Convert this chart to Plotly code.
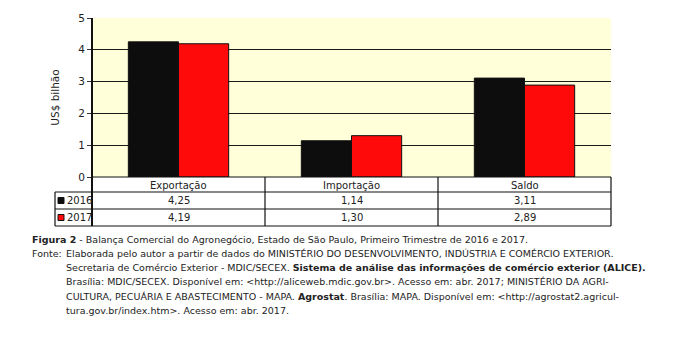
import plotly.graph_objects as go

categories = ["Exportação", "Importação", "Saldo"]
years = ["2016", "2017"]
v2016 = [4.25, 1.14, 3.11]
v2017 = [4.19, 1.30, 2.89]
colors = ["#0d0d0d", "#ff0a0a"]

W, H = 684, 339
L, R, T, B = 92, 611, 18, 177
PW, PH = R - L, B - T

def px(x):
    return (x - L) / PW

def py(y):
    return (B - y) / PH

FONT = "DejaVu Sans"

fig = go.Figure()
for yr, vals, c in zip(years, [v2016, v2017], colors):
    fig.add_trace(go.Bar(x=categories, y=vals, name=yr, marker=dict(color=c, line=dict(color="#111", width=1))))

fig.update_layout(
    width=W, height=H,
    margin=dict(l=L, r=W - R, t=T, b=H - B),
    paper_bgcolor="white", plot_bgcolor="#ffffd9",
    barmode="group", bargap=0.42, bargroupgap=0,
    showlegend=False,
    font=dict(family=FONT, color="#222", size=10),
)
fig.update_xaxes(showticklabels=False, showgrid=False, ticks="", range=[-0.5, 2.5], showline=False)
fig.update_yaxes(range=[0, 5], dtick=1, showgrid=True, gridcolor="#1a1a1a", gridwidth=1,
                 ticks="outside", ticklen=4, tickcolor="#333", showline=True, linecolor="#666",
                 linewidth=1, zeroline=False, tickfont=dict(size=10.5),
                 title=dict(text="US$ bilhão", font=dict(size=10.5), standoff=16))

shapes = []
def line(x0, y0, x1, y1, w=1.2, c="#111"):
    shapes.append(dict(type="line", xref="paper", yref="paper", x0=px(x0), y0=py(y0), x1=px(x1), y1=py(y1),
                       line=dict(color=c, width=w)))

# table
row_y = [177, 192, 209, 226]
col_x = [L + PW * i / 3 for i in range(4)]
line(L, 177, R, 177)
for yy in row_y[1:]:
    line(55, yy, R, yy)
line(55, 192, 55, 226)
line(L, 18, L, 226, w=2)
for xx in col_x[1:]:
    line(xx, 177, xx, 226)

annotations = []
def text(x, y, s, anchor="center", size=10, bold=False):
    annotations.append(dict(xref="paper", yref="paper", x=px(x), y=py(y), text=("<b>%s</b>" % s) if bold else s,
                            showarrow=False, xanchor=anchor, yanchor="middle",
                            font=dict(family=FONT, size=size, color="#222")))

for i, cat in enumerate(categories):
    cx = (col_x[i] + col_x[i + 1]) / 2
    text(cx, 185, cat)
    text(cx, 200.5, f"{v2016[i]:.2f}".replace(".", ","))
    text(cx, 217.5, f"{v2017[i]:.2f}".replace(".", ","))

for j, (yr, c) in enumerate(zip(years, colors)):
    yc = 200.5 + 17 * j
    shapes.append(dict(type="rect", xref="paper", yref="paper", x0=px(58), x1=px(64), y0=py(yc + 3), y1=py(yc - 3),
                       fillcolor=c, line=dict(color="#111", width=1)))
    text(65, yc, yr, anchor="left")

# caption
cap = [
    (30, 239.3, "<b>Figura 2</b> - Balança Comercial do Agronegócio, Estado de São Paulo, Primeiro Trimestre de 2016 e 2017."),
    (30, 253.3, "Fonte:"),
    (64, 253.3, "Elaborada pelo autor a partir de dados do MINISTÉRIO DO DESENVOLVIMENTO, INDÚSTRIA E COMÉRCIO EXTERIOR."),
    (64, 267.7, "Secretaria de Comércio Exterior - MDIC/SECEX. <b>Sistema de análise das informações de comércio exterior (ALICE).</b>"),
    (64, 281.7, "Brasília: MDIC/SECEX. Disponível em: &lt;http://aliceweb.mdic.gov.br&gt;. Acesso em: abr. 2017; MINISTÉRIO DA AGRI-"),
    (64, 296.0, "CULTURA, PECUÁRIA E ABASTECIMENTO - MAPA. <b>Agrostat</b>. Brasília: MAPA. Disponível em: &lt;http://agrostat2.agricul-"),
    (64, 310.0, "tura.gov.br/index.htm&gt;. Acesso em: abr. 2017."),
]
for x, y, s in cap:
    text(x, y, s, anchor="left", size=9.5)

fig.update_layout(shapes=shapes, annotations=annotations)
fig.write_html("out.html")
